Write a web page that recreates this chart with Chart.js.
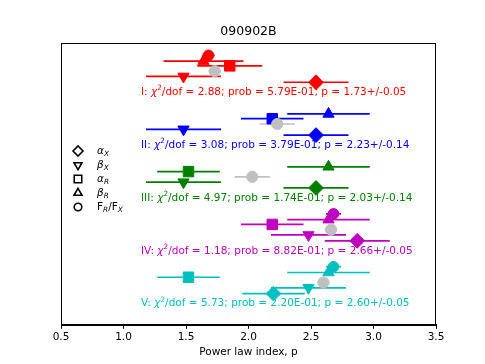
<!DOCTYPE html>
<html>
<head>
<meta charset="utf-8">
<script src="https://cdn.jsdelivr.net/npm/chart.js@4"></script>
<style>
  html, body { margin: 0; padding: 0; background: #fff; }
</style>
</head>
<body>
<canvas id="c" width="485" height="364"></canvas>
<script>
const title = "090902B";
const groups = ["I", "II", "III", "IV", "V"];
const colors = ["#ff0000", "#0000ff", "#008000", "#bf00bf", "#00bfbf"];
const chi2dof = ["2.88", "3.08", "4.97", "1.18", "5.73"];
const prob = ["5.79E-01", "3.79E-01", "1.74E-01", "8.82E-01", "2.20E-01"];
const pFit = [1.73, 2.23, 2.03, 2.66, 2.60]; //combined p (grey)
const pFitErr = [0.05, 0.14, 0.14, 0.05, 0.05];
const alphaX = [2.54, 2.54, 2.54, 2.87, 2.20];
const alphaXErr = [0.26, 0.26, 0.26, 0.26, 0.25];
const betaX = [1.48, 1.48, 1.48, 2.48, 2.48];
const betaXErr = [0.30, 0.30, 0.30, 0.30, 0.30];
const alphaR = [1.85, 2.19, 1.52, 2.19, 1.52];
const alphaRErr = [0.26, 0.25, 0.25, 0.25, 0.25];
const betaR = [1.64, 2.64, 2.64, 2.64, 2.64];
const betaRErr = [0.32, 0.33, 0.33, 0.33, 0.33];
const ratio = [1.68, null, null, 2.68, 2.68]; //F_R/F_X
const ratioErr = [0.05, null, null, 0.06, 0.06];
const xTicks = [0.5, 1.0, 1.5, 2.0, 2.5, 3.0, 3.5];

const FONT = '"DejaVu Sans", sans-serif';

// one row per group, series stacked a little above the group text
const series = [
  { vals: alphaX, errs: alphaXErr, style: "rectRot", r: 7.4, rot: 0, off: -0.19 },
  { vals: betaX, errs: betaXErr, style: "triangle", r: 6.5, rot: 180, off: -0.30 },
  { vals: alphaR, errs: alphaRErr, style: "rect", r: 7.4, rot: 0, off: -0.50 },
  { vals: betaR, errs: betaRErr, style: "triangle", r: 6.5, rot: 0, off: -0.59 },
  { vals: ratio, errs: ratioErr, style: "circle", r: 5.3, rot: 0, off: -0.70 },
  { vals: pFit, errs: pFitErr, style: "circle", r: 5.6, rot: 0, off: -0.40, grey: true },
];

let bars = [];
let marks = [];
for (const s of series) {
  for (let g = 0; g < groups.length; g++) {
    if (s.vals[g] == null) continue;
    const y = g + 1 + s.off;
    const col = s.grey ? "#c0c0c0" : colors[g];
    bars.push({
      type: "line",
      data: [
        { x: s.vals[g] - s.errs[g], y: y },
        { x: s.vals[g] + s.errs[g], y: y },
      ],
      borderColor: col,
      borderWidth: 1.7,
      pointRadius: 0,
      fill: false,
    });
    marks.push({
      type: "scatter",
      data: [{ x: s.vals[g], y: y }],
      backgroundColor: col,
      borderColor: col,
      borderWidth: 1,
      pointStyle: s.style,
      rotation: s.rot,
      pointRadius: s.r,
    });
  }
}
let datasets = bars.concat(marks);
datasets.forEach((d, i) => (d.order = -i)); //later ones on top

function drawParts(ctx, parts, x, y, size) {
  for (const p of parts) {
    const small = p.sub || p.sup;
    const fs = small ? size * 0.7 : size;
    ctx.font = (p.it ? "italic " : "") + fs + "px " + FONT;
    const dy = p.sub ? size * 0.28 : p.sup ? -size * 0.38 : 0;
    ctx.fillText(p.t, x, y + dy);
    x += ctx.measureText(p.t).width;
  }
}

const legendItems = [
  { style: "rectRot", r: 5, rot: 0, parts: [{ t: "α", it: true }, { t: "X", it: true, sub: true }] },
  { style: "triangle", r: 4.6, rot: 180, parts: [{ t: "β", it: true }, { t: "X", it: true, sub: true }] },
  { style: "rect", r: 5.3, rot: 0, parts: [{ t: "α", it: true }, { t: "R", it: true, sub: true }] },
  { style: "triangle", r: 4.6, rot: 0, parts: [{ t: "β", it: true }, { t: "R", it: true, sub: true }] },
  { style: "circle", r: 3.8, rot: 0, parts: [{ t: "F" }, { t: "R", it: true, sub: true }, { t: "/F" }, { t: "X", it: true, sub: true }] },
];

const extras = {
  id: "extras",
  beforeDatasetsDraw(chart) {
    const { ctx, chartArea: a } = chart;
    ctx.save();
    ctx.strokeStyle = "#000";
    ctx.lineWidth = 1;
    ctx.strokeRect(Math.round(a.left) + 0.5, Math.round(a.top) + 0.5, Math.round(a.right - a.left) - 1, Math.round(a.bottom - a.top));
    ctx.restore();
  },
  afterDatasetsDraw(chart) {
    const { ctx, chartArea: a, scales } = chart;
    ctx.save();
    // title
    ctx.fillStyle = "#000";
    ctx.font = "12.5px " + FONT;
    ctx.textAlign = "center";
    ctx.textBaseline = "middle";
    ctx.fillText(title, (a.left + a.right) / 2, 32);
    ctx.textAlign = "left";
    // group texts
    for (let g = 0; g < groups.length; g++) {
      ctx.fillStyle = colors[g];
      const txt =
        "/dof = " + chi2dof[g] + "; prob = " + prob[g] + "; p = " +
        pFit[g].toFixed(2) + "+/-" + pFitErr[g].toFixed(2);
      drawParts(
        ctx,
        [{ t: groups[g] + ": " }, { t: "χ", it: true }, { t: "2", sup: true }, { t: txt }],
        scales.x.getPixelForValue(1.14),
        scales.y.getPixelForValue(g + 1),
        10.5
      );
    }
    // legend
    legendItems.forEach((it, i) => {
      const y = 151 + i * 14;
      ctx.strokeStyle = "#000";
      ctx.fillStyle = "rgba(0,0,0,0)";
      ctx.lineWidth = 1.6;
      Chart.helpers.drawPoint(ctx, { pointStyle: it.style, radius: it.r, rotation: it.rot, borderWidth: 1.6 }, 78, y);
      ctx.fillStyle = "#000";
      drawParts(ctx, it.parts, 97, y, 10.5);
    });
    ctx.restore();
  },
};

new Chart(document.getElementById("c"), {
  data: { datasets: datasets },
  options: {
    responsive: false,
    animation: false,
    layout: { padding: { top: 43, left: 61, right: 49, bottom: 0 } },
    plugins: { legend: { display: false }, tooltip: { enabled: false } },
    scales: {
      x: {
        type: "linear",
        min: 0.5,
        max: 3.5,
        afterBuildTicks: (axis) => {
          axis.ticks = xTicks.map((v) => ({ value: v }));
        },
        ticks: {
          callback: (v) => v.toFixed(1),
          color: "#000",
          font: { family: FONT, size: 10.5 },
          padding: 2,
          maxRotation: 0,
          autoSkip: false,
        },
        grid: { drawOnChartArea: false, tickLength: 4, tickColor: "#000", tickWidth: 1 },
        border: { color: "#000", width: 1 },
        title: {
          display: true,
          text: "Power law index, p",
          color: "#000",
          font: { family: FONT, size: 10.5 },
          padding: { top: 1, bottom: 5 },
        },
      },
      y: { type: "linear", min: 0.067, max: 5.4, reverse: true, display: false },
    },
  },
  plugins: [extras],
});
</script>
</body>
</html>
